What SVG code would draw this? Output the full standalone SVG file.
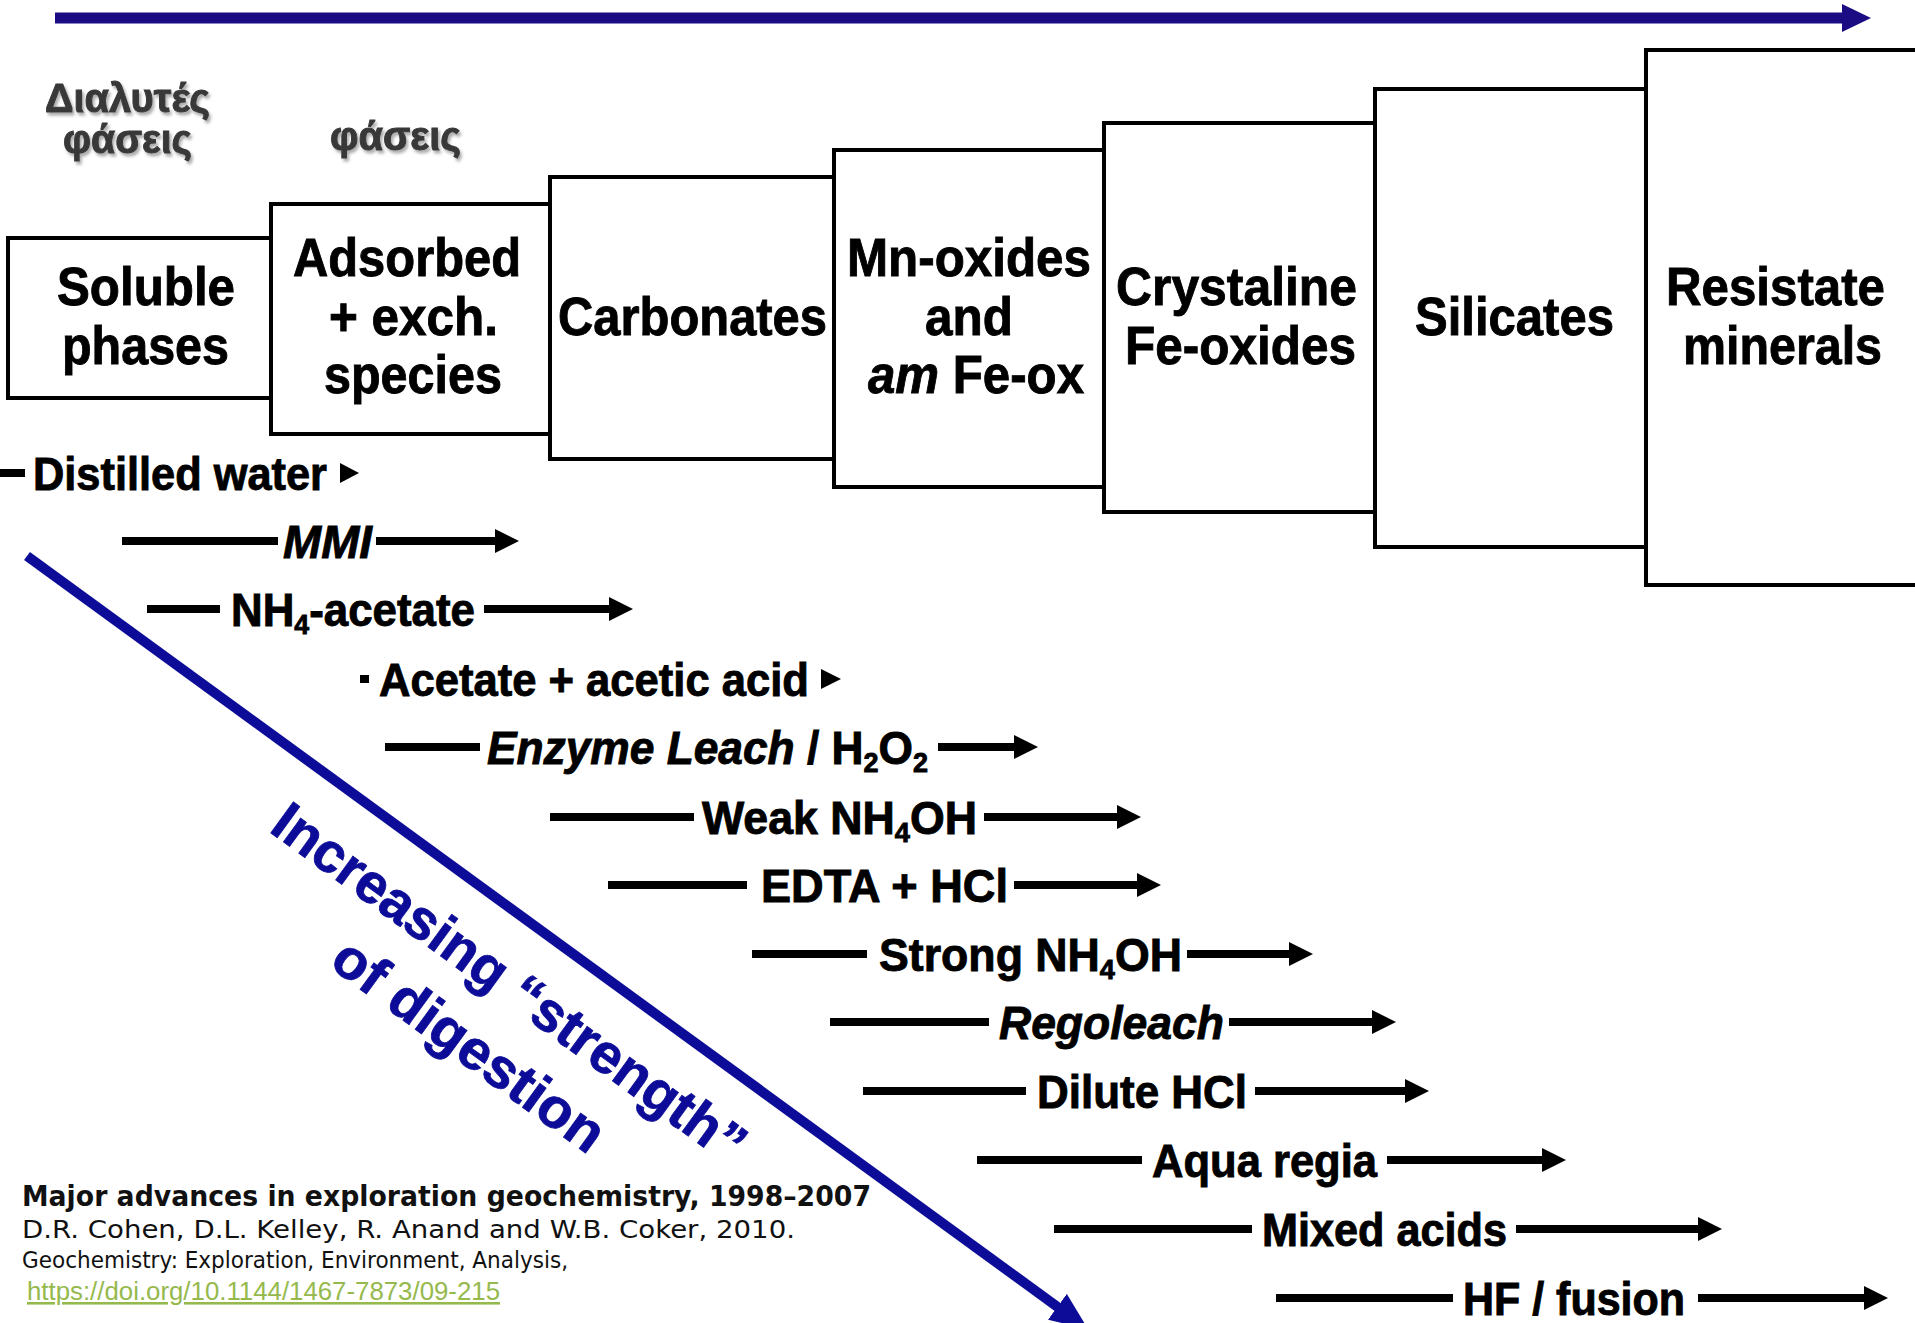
<svg xmlns="http://www.w3.org/2000/svg" width="1915" height="1323" viewBox="0 0 1915 1323">
<defs>
<style>
.box{fill:#fff;stroke:#000;stroke-width:4}
.bt{font-family:"Liberation Sans",Arial,sans-serif;font-weight:bold;font-size:53px;fill:#000;stroke:#000;stroke-width:0.9}
.rt{font-family:"Liberation Sans",Arial,sans-serif;font-weight:bold;font-size:46px;fill:#000;stroke:#000;stroke-width:0.9}
.it{font-style:italic}
.sub{font-size:28px}
.ln{stroke:#000;stroke-width:8;fill:none}
.lnh{stroke:#000;stroke-width:8;fill:none;marker-end:url(#ah)}
.tri{fill:#000}
.gr{font-family:"Liberation Sans",Arial,sans-serif;font-weight:bold;font-size:41px;fill:#383838;stroke:#383838;stroke-width:1;filter:url(#sh)}
.diag{font-family:"Liberation Sans",Arial,sans-serif;font-weight:bold;font-size:56px;fill:#0c0c98;stroke:#0c0c98;stroke-width:0.8}
.cit{font-family:"DejaVu Sans","Liberation Sans",sans-serif;fill:#111}
.link{font-family:"Liberation Sans",sans-serif;fill:#95b94c;text-decoration:underline}
</style>
<marker id="ah" markerUnits="userSpaceOnUse" markerWidth="26" markerHeight="24" viewBox="0 0 26 24" refX="1" refY="12" orient="auto"><path d="M0,0 L24,12 L0,24 z" fill="#000"/></marker>
<marker id="bh" markerUnits="userSpaceOnUse" markerWidth="30" markerHeight="28" viewBox="0 0 30 28" refX="1" refY="14" orient="auto"><path d="M0,0 L29,14 L0,28 z" fill="#1c0c84"/></marker>
<marker id="dh" markerUnits="userSpaceOnUse" markerWidth="40" markerHeight="32" viewBox="0 0 40 32" refX="2" refY="16" orient="auto"><path d="M0,0 L38,16 L0,32 z" fill="#0c0c98"/></marker>
<filter id="sh" x="-10%" y="-20%" width="130%" height="150%"><feDropShadow dx="2" dy="3" stdDeviation="1.5" flood-color="#888" flood-opacity="0.7"/></filter>
</defs>

<g id="top-arrow">
<line x1="55" y1="18" x2="1843" y2="18" stroke="#1c0c84" stroke-width="11" marker-end="url(#bh)"/>
</g>

<g id="greek-labels">
<text class="gr" x="45" y="112" textLength="165" lengthAdjust="spacingAndGlyphs">Διαλυτές</text>
<text class="gr" x="63" y="153" textLength="129" lengthAdjust="spacingAndGlyphs">φάσεις</text>
<text class="gr" x="330" y="150" textLength="131" lengthAdjust="spacingAndGlyphs">φάσεις</text>
</g>

<g id="box-soluble">
<rect class="box" x="8" y="238" width="263" height="160"/>
<text class="bt" x="57" y="305" textLength="178" lengthAdjust="spacingAndGlyphs">Soluble</text>
<text class="bt" x="62" y="364" textLength="167" lengthAdjust="spacingAndGlyphs">phases</text>
</g>
<g id="box-adsorbed">
<rect class="box" x="271" y="204" width="279" height="230"/>
<text class="bt" x="293" y="276" textLength="228" lengthAdjust="spacingAndGlyphs">Adsorbed</text>
<text class="bt" x="329" y="335" textLength="169" lengthAdjust="spacingAndGlyphs">+ exch.</text>
<text class="bt" x="324" y="393" textLength="178" lengthAdjust="spacingAndGlyphs">species</text>
</g>
<g id="box-carbonates">
<rect class="box" x="550" y="177" width="284" height="282"/>
<text class="bt" x="558" y="335" textLength="269" lengthAdjust="spacingAndGlyphs">Carbonates</text>
</g>
<g id="box-mn-oxides">
<rect class="box" x="834" y="150" width="270" height="337"/>
<text class="bt" x="847" y="276" textLength="244" lengthAdjust="spacingAndGlyphs">Mn-oxides</text>
<text class="bt" x="925" y="335" textLength="88" lengthAdjust="spacingAndGlyphs">and</text>
<text class="bt" x="868" y="393" textLength="216" lengthAdjust="spacingAndGlyphs"><tspan class="it">am</tspan> Fe-ox</text>
</g>
<g id="box-crystaline">
<rect class="box" x="1104" y="123" width="271" height="389"/>
<text class="bt" x="1116" y="305" textLength="241" lengthAdjust="spacingAndGlyphs">Crystaline</text>
<text class="bt" x="1125" y="364" textLength="231" lengthAdjust="spacingAndGlyphs">Fe-oxides</text>
</g>
<g id="box-silicates">
<rect class="box" x="1375" y="89" width="271" height="458"/>
<text class="bt" x="1415" y="335" textLength="199" lengthAdjust="spacingAndGlyphs">Silicates</text>
</g>
<g id="box-resistate">
<rect class="box" x="1646" y="50" width="290" height="535"/>
<text class="bt" x="1666" y="305" textLength="219" lengthAdjust="spacingAndGlyphs">Resistate</text>
<text class="bt" x="1683" y="364" textLength="199" lengthAdjust="spacingAndGlyphs">minerals</text>
</g>

<g id="connectors">
<line class="ln" x1="0" y1="473" x2="25" y2="473"/>
<polygon class="tri" points="340,463 359,473 340,483"/>
<line class="ln" x1="122" y1="541" x2="278" y2="541"/>
<line class="lnh" x1="376" y1="541" x2="496" y2="541"/>
<line class="ln" x1="147" y1="609" x2="220" y2="609"/>
<line class="lnh" x1="484" y1="609" x2="610" y2="609"/>
<line class="ln" x1="360" y1="679" x2="369" y2="679"/>
<polygon class="tri" points="821,669 841,679 821,689"/>
<line class="ln" x1="385" y1="747" x2="480" y2="747"/>
<line class="lnh" x1="938" y1="747" x2="1015" y2="747"/>
<line class="ln" x1="550" y1="817" x2="694" y2="817"/>
<line class="lnh" x1="984" y1="817" x2="1118" y2="817"/>
<line class="ln" x1="608" y1="885" x2="747" y2="885"/>
<line class="lnh" x1="1014" y1="885" x2="1138" y2="885"/>
<line class="ln" x1="752" y1="954" x2="867" y2="954"/>
<line class="lnh" x1="1187" y1="954" x2="1290" y2="954"/>
<line class="ln" x1="830" y1="1022" x2="989" y2="1022"/>
<line class="lnh" x1="1229" y1="1022" x2="1373" y2="1022"/>
<line class="ln" x1="863" y1="1091" x2="1026" y2="1091"/>
<line class="lnh" x1="1255" y1="1091" x2="1406" y2="1091"/>
<line class="ln" x1="977" y1="1160" x2="1142" y2="1160"/>
<line class="lnh" x1="1387" y1="1160" x2="1543" y2="1160"/>
<line class="ln" x1="1054" y1="1229" x2="1252" y2="1229"/>
<line class="lnh" x1="1516" y1="1229" x2="1699" y2="1229"/>
<line class="ln" x1="1276" y1="1298" x2="1453" y2="1298"/>
<line class="lnh" x1="1698" y1="1298" x2="1865" y2="1298"/>
<line x1="27" y1="556" x2="1059" y2="1308" stroke="#0c0c98" stroke-width="10" marker-end="url(#dh)"/>
</g>

<g id="method-labels">
<text class="rt" x="33" y="490" textLength="294" lengthAdjust="spacingAndGlyphs">Distilled water</text>
<text class="rt it" x="283" y="558" textLength="89" lengthAdjust="spacingAndGlyphs">MMI</text>
<text class="rt" x="231" y="626" textLength="244" lengthAdjust="spacingAndGlyphs">NH<tspan class="sub" dy="8">4</tspan><tspan dy="-8">-acetate</tspan></text>
<text class="rt" x="379" y="696" textLength="430" lengthAdjust="spacingAndGlyphs">Acetate + acetic acid</text>
<text class="rt" x="487" y="764" textLength="441" lengthAdjust="spacingAndGlyphs"><tspan class="it">Enzyme Leach</tspan> / H<tspan class="sub" dy="8">2</tspan><tspan dy="-8">O</tspan><tspan class="sub" dy="8">2</tspan></text>
<text class="rt" x="702" y="834" textLength="275" lengthAdjust="spacingAndGlyphs">Weak NH<tspan class="sub" dy="8">4</tspan><tspan dy="-8">OH</tspan></text>
<text class="rt" x="761" y="902" textLength="247" lengthAdjust="spacingAndGlyphs">EDTA + HCl</text>
<text class="rt" x="879" y="971" textLength="303" lengthAdjust="spacingAndGlyphs">Strong NH<tspan class="sub" dy="8">4</tspan><tspan dy="-8">OH</tspan></text>
<text class="rt it" x="999" y="1039" textLength="225" lengthAdjust="spacingAndGlyphs">Regoleach</text>
<text class="rt" x="1037" y="1108" textLength="210" lengthAdjust="spacingAndGlyphs">Dilute HCl</text>
<text class="rt" x="1152" y="1177" textLength="225" lengthAdjust="spacingAndGlyphs">Aqua regia</text>
<text class="rt" x="1262" y="1246" textLength="245" lengthAdjust="spacingAndGlyphs">Mixed acids</text>
<text class="rt" x="1463" y="1315" textLength="222" lengthAdjust="spacingAndGlyphs">HF / fusion</text>
</g>

<g id="strength-label">
<g transform="translate(510,982) rotate(36)">
<text class="diag" x="0" y="20" text-anchor="middle" textLength="570" lengthAdjust="spacingAndGlyphs">Increasing “strength”</text>
<text class="diag" x="4" y="94" text-anchor="middle" textLength="322" lengthAdjust="spacingAndGlyphs">of digestion</text>
</g>
</g>

<g id="citation">
<text class="cit" x="22" y="1206" font-size="29" font-weight="bold" textLength="849" lengthAdjust="spacingAndGlyphs">Major advances in exploration geochemistry, 1998–2007</text>
<text class="cit" x="22" y="1238" font-size="25" textLength="773" lengthAdjust="spacingAndGlyphs">D.R. Cohen, D.L. Kelley, R. Anand and W.B. Coker, 2010.</text>
<text class="cit" x="22" y="1268" font-size="23" textLength="546" lengthAdjust="spacingAndGlyphs">Geochemistry: Exploration, Environment, Analysis,</text>
<text class="link" x="27" y="1300" font-size="26" textLength="473" lengthAdjust="spacingAndGlyphs">https://doi.org/10.1144/1467-7873/09-215</text>
</g>
</svg>
